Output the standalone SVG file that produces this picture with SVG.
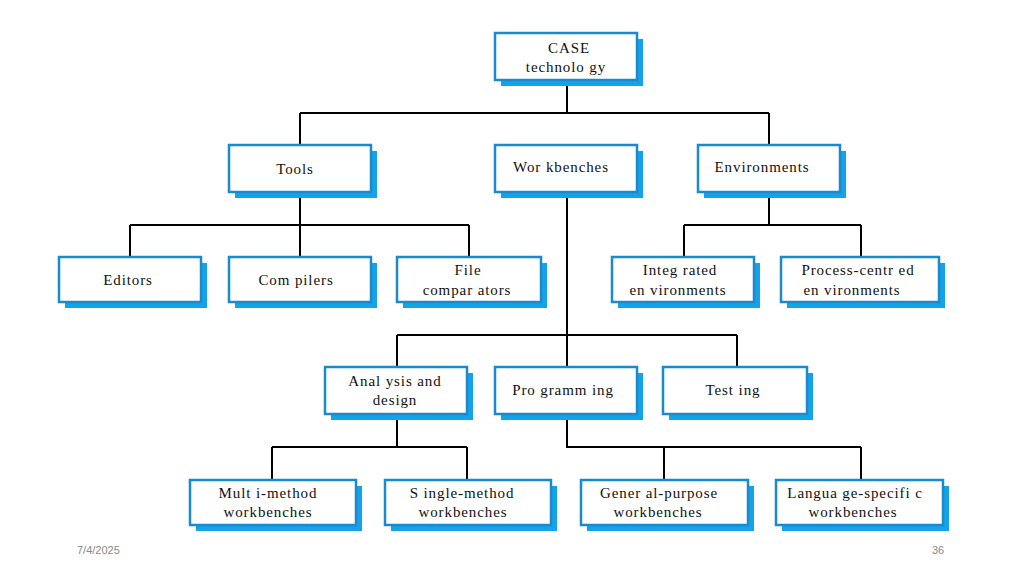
<svg xmlns="http://www.w3.org/2000/svg" width="1024" height="576" viewBox="0 0 1024 576">
<style>
.sh{fill:#14a3e6;}
.bx{fill:#ffffff;stroke:#1a8ad0;stroke-width:2.5;}
.t{font-family:"Liberation Serif","Times New Roman",serif;font-size:15px;letter-spacing:0.9px;fill:#111;text-anchor:middle;}
.c{fill:none;stroke:#000;stroke-width:2;}
.ft{font-family:"Liberation Sans",Arial,sans-serif;font-size:11px;fill:#8a8a8a;}
</style>
<rect width="1024" height="576" fill="#ffffff"/>
<g id="connectors">
<path class="c" d="M567 80V113M300 113H769M300 113V145M769 113V145"/>
<path class="c" d="M300 192V225M130 225H469M130 225V257M300 225V257M469 225V257"/>
<path class="c" d="M769 192V225M684 225H861M684 225V257M861 225V257"/>
<path class="c" d="M567 192V367M397 335H737M397 335V367M737 335V367"/>
<path class="c" d="M397 414V447M272 447H467M272 447V480M467 447V480"/>
<path class="c" d="M567 414V447H861M664 447V480M861 447V480"/>
</g>
<g id="case"><rect class="sh" x="501" y="39" width="142" height="47"/><rect class="bx" x="495" y="33" width="142" height="47"/><text class="t" x="569" y="53">CASE</text><text class="t" x="566" y="72">technolo gy</text></g>
<g id="tools"><rect class="sh" x="235" y="151" width="142" height="47"/><rect class="bx" x="229" y="145" width="142" height="47"/><text class="t" x="295" y="174">Tools</text></g>
<g id="workbenches"><rect class="sh" x="501" y="151" width="142" height="47"/><rect class="bx" x="495" y="145" width="142" height="47"/><text class="t" x="561" y="172">Wor kbenches</text></g>
<g id="environments"><rect class="sh" x="704" y="151" width="142" height="47"/><rect class="bx" x="698" y="145" width="142" height="47"/><text class="t" x="762" y="172">Environments</text></g>
<g id="editors"><rect class="sh" x="65" y="263" width="142" height="45"/><rect class="bx" x="59" y="257" width="142" height="45"/><text class="t" x="128" y="285">Editors</text></g>
<g id="compilers"><rect class="sh" x="235" y="263" width="142" height="45"/><rect class="bx" x="229" y="257" width="142" height="45"/><text class="t" x="296" y="285">Com pilers</text></g>
<g id="filecomp"><rect class="sh" x="403" y="263" width="144" height="45"/><rect class="bx" x="397" y="257" width="144" height="45"/><text class="t" x="468" y="275">File</text><text class="t" x="467" y="295">compar ators</text></g>
<g id="integrated"><rect class="sh" x="618" y="263" width="142" height="45"/><rect class="bx" x="612" y="257" width="142" height="45"/><text class="t" x="680" y="275">Integ rated</text><text class="t" x="678" y="295">en vironments</text></g>
<g id="processcentred"><rect class="sh" x="787" y="263" width="158" height="45"/><rect class="bx" x="781" y="257" width="158" height="45"/><text class="t" x="858" y="275">Process-centr ed</text><text class="t" x="852" y="295">en vironments</text></g>
<g id="analysis"><rect class="sh" x="331" y="373" width="142" height="47"/><rect class="bx" x="325" y="367" width="142" height="47"/><text class="t" x="395" y="386">Anal ysis and</text><text class="t" x="395" y="405">design</text></g>
<g id="programming"><rect class="sh" x="501" y="373" width="142" height="47"/><rect class="bx" x="495" y="367" width="142" height="47"/><text class="t" x="563" y="395">Pro gramm ing</text></g>
<g id="testing"><rect class="sh" x="669" y="373" width="144" height="47"/><rect class="bx" x="663" y="367" width="144" height="47"/><text class="t" x="733" y="395">Test ing</text></g>
<g id="multimethod"><rect class="sh" x="196" y="486" width="166" height="45"/><rect class="bx" x="190" y="480" width="166" height="45"/><text class="t" x="268" y="498">Mult i-method</text><text class="t" x="268" y="517">workbenches</text></g>
<g id="singlemethod"><rect class="sh" x="391" y="486" width="166" height="45"/><rect class="bx" x="385" y="480" width="166" height="45"/><text class="t" x="462" y="498">S ingle-method</text><text class="t" x="463" y="517">workbenches</text></g>
<g id="generalpurpose"><rect class="sh" x="587" y="486" width="167" height="45"/><rect class="bx" x="581" y="480" width="167" height="45"/><text class="t" x="659" y="498">Gener al-purpose</text><text class="t" x="658" y="517">workbenches</text></g>
<g id="languagespecific"><rect class="sh" x="782" y="486" width="167" height="45"/><rect class="bx" x="776" y="480" width="167" height="45"/><text class="t" x="855" y="498">Langua ge-specifi c</text><text class="t" x="853" y="517">workbenches</text></g>
<text class="ft" x="77" y="554">7/4/2025</text>
<text class="ft" x="932" y="554">36</text>
</svg>
